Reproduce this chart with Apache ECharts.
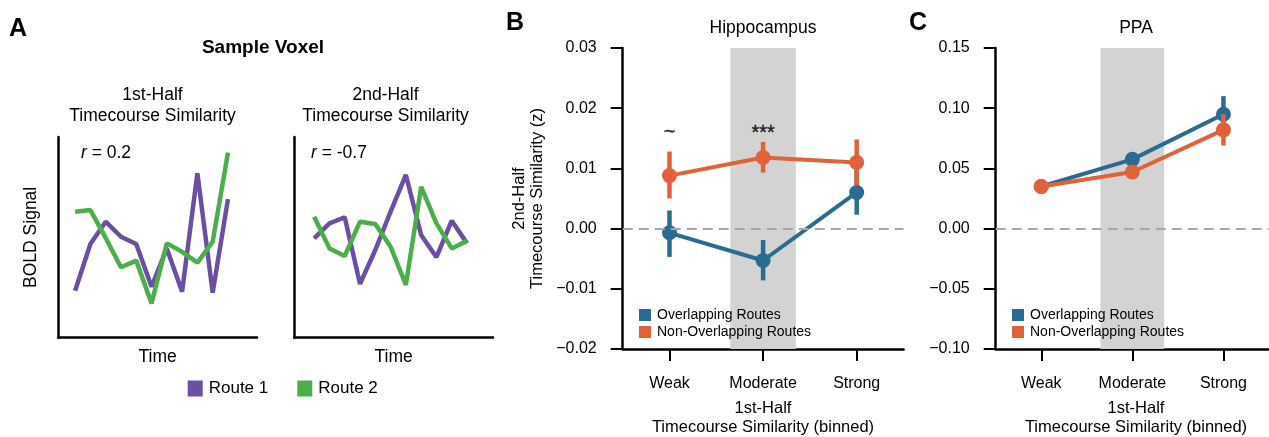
<!DOCTYPE html>
<html>
<head>
<meta charset="utf-8">
<script src="https://cdn.jsdelivr.net/npm/echarts@6/dist/echarts.min.js"></script>
<style>
html,body{margin:0;padding:0;background:#fff;}
#chart{width:1269px;height:437px;}
</style>
</head>
<body>
<div id="chart"></div>
<script>
// ---------- Panel A: sample voxel timecourses ----------
const route1First  = [23.4, 46.7, 57.8, 50.3, 46.7, 25.4, 44.5, 22.9, 81.9, 22.4, 69.0];
const route2First  = [62.8, 63.6, 49.7, 35.1, 38.4, 17.1, 47.0, 42.8, 37.4, 47.8, 92.2];
const route1Second = [49.5, 57.0, 60.0, 26.8, 43.7, 62.8, 81.1, 51.2, 40.1, 58.3, 47.0];
const route2Second = [60.3, 44.5, 40.7, 57.8, 56.7, 45.3, 26.3, 75.2, 57.0, 44.5, 48.3];

// ---------- Panels B & C ----------
const bins = ['Weak', 'Moderate', 'Strong'];
const hippoOverlap      = [-0.0007, -0.0053, 0.0060];
const hippoOverlapLo    = [-0.0047, -0.0086, 0.0023];
const hippoOverlapHi    = [ 0.0030, -0.0019, 0.0097];
const hippoNonOverlap   = [ 0.0088,  0.0118, 0.0110];
const hippoNonOverlapLo = [ 0.0050,  0.0093, 0.0072];
const hippoNonOverlapHi = [ 0.0128,  0.0144, 0.0148];
const hippoSigLabels = ['~', '***'];
const hippoSigY      = [0.0160, 0.0158];

const ppaOverlap      = [0.0350, 0.0575, 0.0950];
const ppaOverlapLo    = [0.0330, 0.0530, 0.0800];
const ppaOverlapHi    = [0.0370, 0.0620, 0.1100];
const ppaNonOverlap   = [0.0350, 0.0470, 0.0820];
const ppaNonOverlapLo = [0.0335, 0.0440, 0.0690];
const ppaNonOverlapHi = [0.0365, 0.0500, 0.0950];

const hippoTicks = {min: -0.02, max: 0.03, interval: 0.01};
const ppaTicks   = {min: -0.10, max: 0.15, interval: 0.05};
const shadeRange = [0.65, 1.35];

const BLUE = '#2a6b8f', ORANGE = '#e1623a', PURPLE = '#6a4fa3', GREEN = '#4bae4a';
const FONT = '"Liberation Sans", Arial, Helvetica, sans-serif';

const chart = echarts.init(document.getElementById('chart'), null, {renderer: 'canvas'});

function fmtTick(v) {
  const s = Math.abs(v).toFixed(2);
  return (v < -1e-9 ? '\u2212' : '') + s;
}
function pts(arr) { return arr.map((v, i) => [i, v]); }
function errData(lo, hi) { return lo.map((l, i) => [i, l, hi[i]]); }

function errSeries(idx, lo, hi, color, z) {
  return {
    type: 'custom', xAxisIndex: idx, yAxisIndex: idx, z: z, silent: true,
    data: errData(lo, hi),
    encode: {x: 0, y: [1, 2]},
    renderItem: function (params, api) {
      const x = api.value(0);
      const p1 = api.coord([x, api.value(1)]);
      const p2 = api.coord([x, api.value(2)]);
      return {type: 'line', shape: {x1: p1[0], y1: p1[1], x2: p2[0], y2: p2[1]},
              style: {stroke: color, lineWidth: 4.5}};
    }
  };
}
function meanSeries(idx, name, vals, color, z) {
  return {
    type: 'line', name: name, xAxisIndex: idx, yAxisIndex: idx, z: z, silent: true,
    data: pts(vals), symbol: 'circle', symbolSize: 15, showSymbol: true,
    itemStyle: {color: color, borderWidth: 0},
    lineStyle: {color: color, width: 4},
    emphasis: {disabled: true}
  };
}
function bgSeries(idx) {
  return [{
    type: 'line', xAxisIndex: idx, yAxisIndex: idx, data: [], z: 1, silent: true,
    markArea: {silent: true, itemStyle: {color: '#d3d3d3'}, data: [[{xAxis: shadeRange[0]}, {xAxis: shadeRange[1]}]]}
  }, {
    type: 'line', xAxisIndex: idx, yAxisIndex: idx, data: [], z: 2, silent: true,
    markLine: {silent: true, symbol: 'none', label: {show: false},
      lineStyle: {color: '#a8a8a8', type: [10, 6], width: 2}, data: [{yAxis: 0}]}
  }];
}
function tsSeries(idx, name, vals, color) {
  return {type: 'line', name: name, xAxisIndex: idx, yAxisIndex: idx, data: pts(vals),
    showSymbol: false, symbol: 'none', silent: true,
    lineStyle: {color: color, width: 4.5}, itemStyle: {color: color}};
}

const axisLineStyle = {show: true, onZero: false, lineStyle: {color: '#000', width: 2.5}};
function catXAxis(grid) {
  return {gridIndex: grid, type: 'value', min: -0.5, max: 2.5, axisLine: axisLineStyle,
    axisTick: {show: true, customValues: [0, 1, 2], length: 12, lineStyle: {color: '#000', width: 2}},
    axisLabel: {show: true, customValues: [0, 1, 2], formatter: v => bins[Math.round(v)], margin: 27, fontSize: 16, color: '#000'},
    splitLine: {show: false}};
}
function txt(x, y, t, font) {
  return {type: 'text', x: x, y: y, style: {text: t, font: font + ' ' + FONT, fill: '#000', align: 'center', verticalAlign: 'middle'}};
}

const option = {
  animation: false,
  textStyle: {fontFamily: FONT},
  grid: [
    {left: 58.3, top: 137, width: 198.7, height: 200.7},
    {left: 294.3, top: 137, width: 198.7, height: 200.7},
    {left: 622.7, top: 48, width: 280.8, height: 301},
    {left: 995.7, top: 48, width: 280.8, height: 301}
  ],
  xAxis: [
    {gridIndex: 0, type: 'value', min: -1.1, max: 11.9, axisLine: axisLineStyle, axisTick: {show: false},
     axisLabel: {show: false}, splitLine: {show: false},
     name: 'Time', nameLocation: 'middle', nameGap: 10, nameTextStyle: {fontSize: 17.5, color: '#000', verticalAlign: 'top'}},
    {gridIndex: 1, type: 'value', min: -1.3, max: 11.7, axisLine: axisLineStyle, axisTick: {show: false},
     axisLabel: {show: false}, splitLine: {show: false},
     name: 'Time', nameLocation: 'middle', nameGap: 10, nameTextStyle: {fontSize: 17.5, color: '#000', verticalAlign: 'top'}},
    catXAxis(2),
    catXAxis(3)
  ],
  yAxis: [
    {gridIndex: 0, type: 'value', min: 0, max: 100, axisLine: axisLineStyle, axisTick: {show: false},
     axisLabel: {show: false}, splitLine: {show: false},
     name: 'BOLD Signal', nameLocation: 'middle', nameGap: 18, nameRotate: 90,
     nameTextStyle: {fontSize: 17.5, color: '#000'}},
    {gridIndex: 1, type: 'value', min: 0, max: 100, axisLine: axisLineStyle, axisTick: {show: false},
     axisLabel: {show: false}, splitLine: {show: false}},
    {gridIndex: 2, type: 'value', min: hippoTicks.min, max: hippoTicks.max, interval: hippoTicks.interval,
     axisLine: axisLineStyle, axisTick: {show: true, length: 12, lineStyle: {color: '#000', width: 2}},
     axisLabel: {formatter: fmtTick, margin: 26, fontSize: 16, color: '#000'}, splitLine: {show: false},
     name: '2nd-Half\nTimecourse Similarity (z)', nameLocation: 'middle', nameGap: 76, nameRotate: 90,
     nameTextStyle: {fontSize: 16.5, color: '#000', lineHeight: 18}},
    {gridIndex: 3, type: 'value', min: ppaTicks.min, max: ppaTicks.max, interval: ppaTicks.interval,
     axisLine: axisLineStyle, axisTick: {show: true, length: 12, lineStyle: {color: '#000', width: 2}},
     axisLabel: {formatter: fmtTick, margin: 26, fontSize: 16, color: '#000'}, splitLine: {show: false}}
  ],
  legend: [
    {data: ['Route 1', 'Route 2'], orient: 'horizontal', left: 182.7, top: 375, icon: 'rect',
     itemWidth: 15, itemHeight: 16, itemGap: 29, selectedMode: false,
     itemStyle: {borderWidth: 0},
     textStyle: {fontSize: 17, color: '#000', padding: [0, 0, 0, 1], fontFamily: FONT}},
    {data: ['Overlapping Routes', 'Non-Overlapping Routes'], orient: 'vertical', left: 634, top: 303, icon: 'rect',
     itemWidth: 12, itemHeight: 12, itemGap: 3, selectedMode: false,
     itemStyle: {borderWidth: 0},
     textStyle: {fontSize: 14, color: '#000', padding: [0, 0, 0, 1], fontFamily: FONT}},
    {data: ['Overlapping Routes', 'Non-Overlapping Routes'], orient: 'vertical', left: 1007, top: 303, icon: 'rect',
     itemWidth: 12, itemHeight: 12, itemGap: 3, selectedMode: false,
     itemStyle: {borderWidth: 0},
     textStyle: {fontSize: 14, color: '#000', padding: [0, 0, 0, 1], fontFamily: FONT}}
  ],
  graphic: [
    {type: 'text', left: 9, top: 17, style: {text: 'A', font: 'bold 25px ' + FONT, fill: '#000'}},
    {type: 'text', left: 506, top: 11, style: {text: 'B', font: 'bold 25px ' + FONT, fill: '#000'}},
    {type: 'text', left: 909, top: 11, style: {text: 'C', font: 'bold 25px ' + FONT, fill: '#000'}},
    txt(263, 48, 'Sample Voxel', 'bold 19px'),
    txt(152.5, 95, '1st-Half', '17.5px'),
    txt(152.5, 116.5, 'Timecourse Similarity', '17.5px'),
    txt(385.5, 95, '2nd-Half', '17.5px'),
    txt(385.5, 116.5, 'Timecourse Similarity', '17.5px'),
    {type: 'text', x: 81, y: 153, style: {text: '{i|r} = 0.2', font: '17.5px ' + FONT, fill: '#000', verticalAlign: 'middle',
      rich: {i: {fontStyle: 'italic', fontSize: 17.5, fontFamily: FONT}}}},
    {type: 'text', x: 311, y: 153, style: {text: '{i|r} = -0.7', font: '17.5px ' + FONT, fill: '#000', verticalAlign: 'middle',
      rich: {i: {fontStyle: 'italic', fontSize: 17.5, fontFamily: FONT}}}},
    txt(763, 28, 'Hippocampus', '17.5px'),
    txt(1136, 28, 'PPA', '17.5px'),
    txt(763, 408, '1st-Half', '16.5px'),
    txt(763, 427, 'Timecourse Similarity (binned)', '16.5px'),
    txt(1136, 408, '1st-Half', '16.5px'),
    txt(1136, 427, 'Timecourse Similarity (binned)', '16.5px')
  ],
  series: [
    tsSeries(0, 'Route 1', route1First, PURPLE),
    tsSeries(0, 'Route 2', route2First, GREEN),
    tsSeries(1, 'Route 1', route1Second, PURPLE),
    tsSeries(1, 'Route 2', route2Second, GREEN),
    ...bgSeries(2),
    errSeries(2, hippoOverlapLo, hippoOverlapHi, BLUE, 3),
    meanSeries(2, 'Overlapping Routes', hippoOverlap, BLUE, 4),
    errSeries(2, hippoNonOverlapLo, hippoNonOverlapHi, ORANGE, 5),
    meanSeries(2, 'Non-Overlapping Routes', hippoNonOverlap, ORANGE, 6),
    {type: 'scatter', xAxisIndex: 2, yAxisIndex: 2, symbolSize: 1, silent: true, z: 7,
     itemStyle: {color: 'rgba(0,0,0,0)'},
     data: hippoSigLabels.map((t, i) => ({value: [i, hippoSigY[i]], label: {show: true, formatter: t}})),
     label: {show: true, position: 'inside', fontSize: 20, color: '#000', fontFamily: FONT,
             textBorderColor: '#000', textBorderWidth: 0.4}},
    ...bgSeries(3),
    errSeries(3, ppaOverlapLo, ppaOverlapHi, BLUE, 3),
    meanSeries(3, 'Overlapping Routes', ppaOverlap, BLUE, 4),
    errSeries(3, ppaNonOverlapLo, ppaNonOverlapHi, ORANGE, 5),
    meanSeries(3, 'Non-Overlapping Routes', ppaNonOverlap, ORANGE, 6)
  ]
};
chart.setOption(option);
</script>
</body>
</html>
